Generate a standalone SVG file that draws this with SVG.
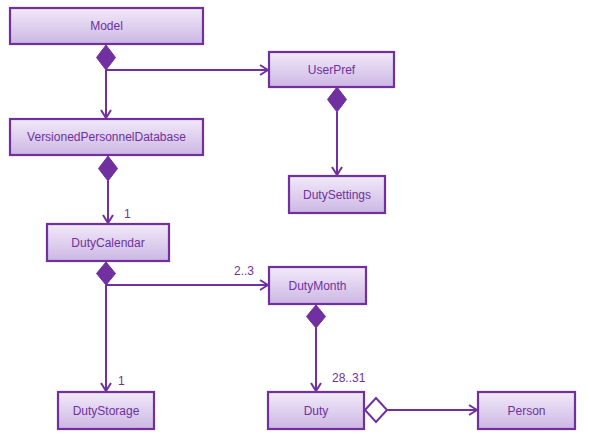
<svg xmlns="http://www.w3.org/2000/svg" width="590" height="444" viewBox="0 0 590 444">
<defs>
<linearGradient id="g" x1="0" y1="0" x2="0" y2="1">
<stop offset="0" stop-color="#F2EAFA"/>
<stop offset="1" stop-color="#CCB7E3"/>
</linearGradient>
<marker id="arr" viewBox="0 0 10 12" refX="9" refY="6" markerWidth="10" markerHeight="12" markerUnits="userSpaceOnUse" orient="auto">
<path d="M1,1 L9,6 L1,11" fill="none" stroke="#7030A0" stroke-width="2"/>
</marker>
</defs>
<style>
.box{fill:url(#g);stroke:#7030A0;stroke-width:2.2}
.t{font-family:"Liberation Sans",Arial,sans-serif;font-size:12px;fill:#7030A0;text-anchor:middle;dominant-baseline:central}
.l{font-family:"Liberation Sans",Arial,sans-serif;font-size:12px;fill:#7030A0}
.c{fill:none;stroke:#7030A0;stroke-width:2}
.fd{fill:#7030A0;stroke:#7030A0;stroke-width:1}
.hd{fill:#fff;stroke:#7030A0;stroke-width:2}
</style>
<rect width="590" height="444" fill="#fff"/>
<g id="connectors">
<path class="c" d="M106,70 V118" marker-end="url(#arr)"/>
<path class="c" d="M106,70 H268" marker-end="url(#arr)"/>
<path class="fd" d="M106,45 L115.5,57.5 L106,70 L96.5,57.5 Z"/>
<path class="c" d="M337,112 V175" marker-end="url(#arr)"/>
<path class="fd" d="M337,87 L346.5,99.5 L337,112 L327.5,99.5 Z"/>
<path class="c" d="M108,181 V223" marker-end="url(#arr)"/>
<path class="fd" d="M108,156 L117.5,168.5 L108,181 L98.5,168.5 Z"/>
<path class="c" d="M106,285 V391" marker-end="url(#arr)"/>
<path class="c" d="M106,285 H268" marker-end="url(#arr)"/>
<path class="fd" d="M106,262 L115.5,273.5 L106,285 L96.5,273.5 Z"/>
<path class="c" d="M316,328 V391" marker-end="url(#arr)"/>
<path class="fd" d="M316,305 L325.5,316.5 L316,328 L306.5,316.5 Z"/>
<path class="c" d="M387,410 H477" marker-end="url(#arr)"/>
<path class="hd" d="M365,410 L376,398 L387,410 L376,422 Z"/>
<text class="l" x="124" y="218">1</text>
<text class="l" x="234" y="275">2..3</text>
<text class="l" x="118" y="385">1</text>
<text class="l" x="332" y="382">28..31</text>
</g>
<g id="Model"><rect class="box" x="10" y="8" width="193" height="36"/><text class="t" x="106.5" y="26">Model</text></g>
<g id="UserPref"><rect class="box" x="269" y="52" width="125" height="35"/><text class="t" x="331.5" y="69.5">UserPref</text></g>
<g id="VersionedPersonnelDatabase"><rect class="box" x="10" y="119" width="193" height="36"/><text class="t" x="106.5" y="137">VersionedPersonnelDatabase</text></g>
<g id="DutySettings"><rect class="box" x="289" y="176" width="96" height="37"/><text class="t" x="337" y="194.5">DutySettings</text></g>
<g id="DutyCalendar"><rect class="box" x="47" y="224" width="122" height="37"/><text class="t" x="108" y="242.5">DutyCalendar</text></g>
<g id="DutyMonth"><rect class="box" x="269" y="267" width="97" height="37"/><text class="t" x="317.5" y="285.5">DutyMonth</text></g>
<g id="DutyStorage"><rect class="box" x="58" y="392" width="96" height="37"/><text class="t" x="106" y="410.5">DutyStorage</text></g>
<g id="Duty"><rect class="box" x="268" y="392" width="96" height="37"/><text class="t" x="316" y="410.5">Duty</text></g>
<g id="Person"><rect class="box" x="478" y="392" width="97" height="37"/><text class="t" x="526.5" y="410.5">Person</text></g>
</svg>
